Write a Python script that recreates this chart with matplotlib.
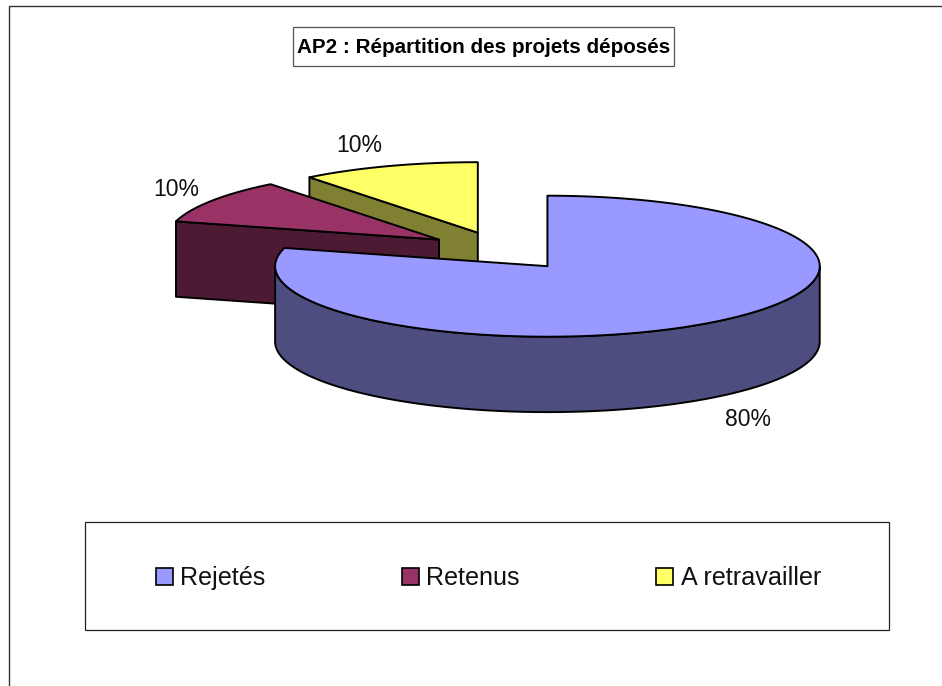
import numpy as np
import matplotlib
matplotlib.use("Agg")
import matplotlib.pyplot as plt
from matplotlib.patches import Polygon, Rectangle

# ---- data ----
categories = ["Rejetés", "Retenus", "A retravailler"]
shares = [80, 10, 10]
title = "AP2 : Répartition des projets déposés"

# ---- style ----
top_colors = ["#9999FF", "#993366", "#FFFF66"]
wall_colors = ["#4D4D80", "#4D1A33", "#808033"]
plt.rcParams["font.family"] = ["Liberation Sans", "DejaVu Sans"]
LW = 1.4

# ---- layout (pixels) ----
W, H = 942, 686
PIE_CX, PIE_CY = 501.8, 250.8
RX, RY, DEPTH = 272.3, 70.5, 75.4
EXPLODE_X, EXPLODE_Y = 0.285, 0.27
WARP_A, WARP_B = 3.085, -1.247
label_pos = [(748, 426), (176.5, 196), (359.5, 151.7)]
legend_swatch_x = [155.7, 401.7, 656.3]

fig = plt.figure(figsize=(W / 100, H / 100), dpi=100, facecolor="white")
ax = fig.add_axes([0, 0, 1, 1])
ax.set_xlim(0, W)
ax.set_ylim(H, 0)
ax.axis("off")


def warp(deg):
    """Projection distortion of an angle measured clockwise from the top."""
    r = np.radians(deg)
    return deg + WARP_A * np.sin(2 * r) + WARP_B * np.sin(4 * r)


def rim(cx, cy, a0, a1, dy=0.0):
    t = np.radians(np.linspace(a0, a1, max(int(abs(a1 - a0) * 2), 2)))
    return np.column_stack([cx + RX * np.sin(t), cy - RY * np.cos(t) + dy])


def face(points, color):
    ax.add_patch(Polygon(points, closed=True, facecolor=color, edgecolor="black",
                         linewidth=LW, joinstyle="round"))


def draw_slice(start, end, top, wall):
    mid = np.radians((start + end) / 2)
    cx = PIE_CX + EXPLODE_X * RX * np.sin(mid)
    cy = PIE_CY - EXPLODE_Y * RY * np.cos(mid)
    a0, a1 = warp(start), warp(end)
    apex = np.array([cx, cy])
    down = np.array([0, DEPTH])
    # radial cut faces turned to the viewer
    for edge, visible in ((a0, np.sin(np.radians(a0)) < -1e-9),
                          (a1, np.sin(np.radians(a1)) > 1e-9)):
        if visible:
            p = rim(cx, cy, edge, edge + 0.001)[0]
            face([apex, p, p + down, apex + down], wall)
    # outer wall: front half of the ellipse only
    f0, f1 = max(a0, 90), min(a1, 270)
    if f1 > f0:
        upper = rim(cx, cy, f0, f1)
        lower = rim(cx, cy, f0, f1, DEPTH)
        face(np.vstack([upper, lower[::-1]]), wall)
    # top surface
    face(np.vstack([[apex], rim(cx, cy, a0, a1)]), top)


# slice angles from the values
bounds = np.concatenate([[0], np.cumsum(shares)]) / np.sum(shares) * 360
for i in (2, 1, 0):  # back to front
    draw_slice(bounds[i], bounds[i + 1], top_colors[i], wall_colors[i])

# percentage labels
for share, (x, y) in zip(shares, label_pos):
    ax.text(x, y, f"{share}%", fontsize=16.6, ha="center", va="baseline", color="#111111")

# chart frame (open at the right and bottom)
ax.plot([8.7, 8.7, W], [H, 5.5, 5.5], color="#333333", lw=1.0, solid_joinstyle="miter")

# title box
ax.add_patch(Rectangle((293, 27.4), 381, 38.3, facecolor="white", edgecolor="#555555", lw=0.9))
ax.text(483.3, 53, title, fontsize=14.9, fontweight="bold", ha="center", va="baseline", color="black")

# legend box
ax.add_patch(Rectangle((85.3, 521.7), 804, 108.6, facecolor="white", edgecolor="#222222", lw=0.9))
for name, color, x in zip(categories, top_colors, legend_swatch_x):
    ax.add_patch(Rectangle((x, 568.2), 17, 17, facecolor=color, edgecolor="black", lw=1.2))
    ax.text(x + 24.3, 585, name, fontsize=18.1, ha="left", va="baseline", color="#111111")

fig.savefig("out.png", dpi=100, facecolor="white")
